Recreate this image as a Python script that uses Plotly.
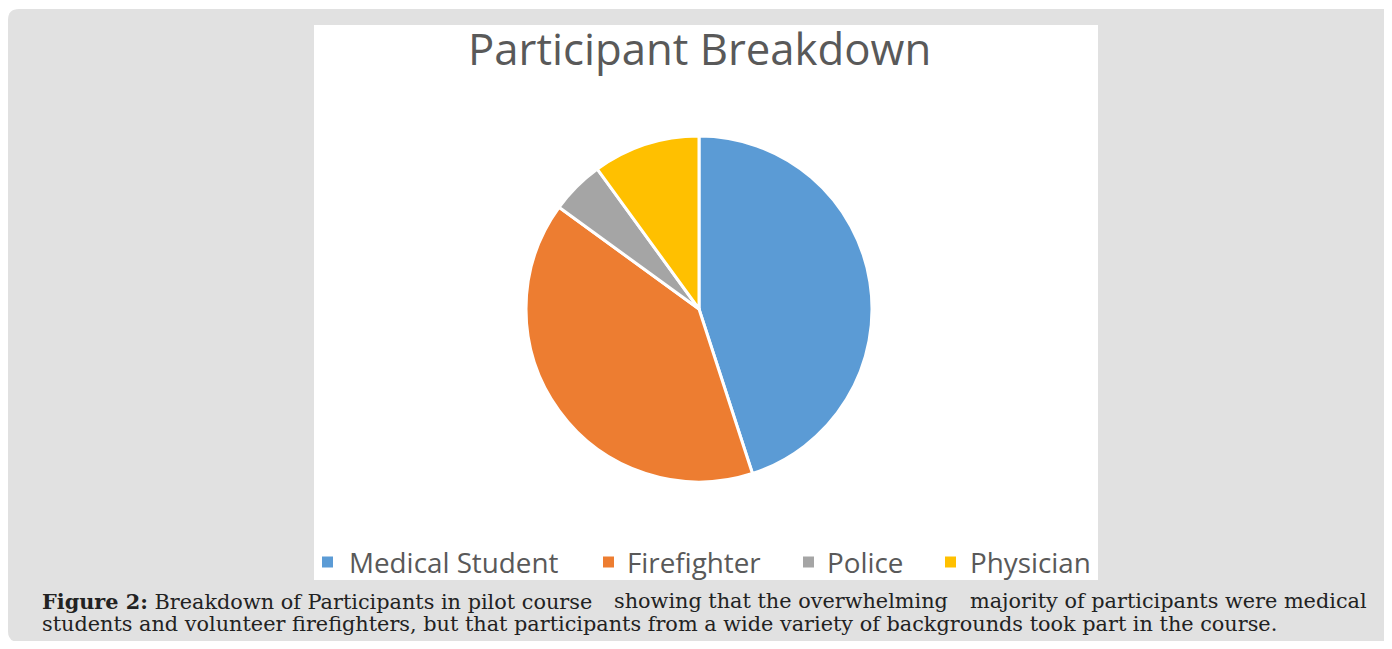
import plotly.graph_objects as go

categories = ["Medical Student", "Firefighter", "Police", "Physician"]
values = [9, 8, 1, 2]
colors = ["#5B9BD5", "#ED7D31", "#A5A5A5", "#FFC000"]
title_text = "Participant Breakdown"
caption_line1_parts = [
    "<b>Figure 2:</b> Breakdown of Participants in pilot course",
    "showing that the overwhelming",
    "majority of participants were medical",
]
caption_line2 = ("students and volunteer firefighters, but that participants from a wide variety "
                 "of backgrounds took part in the course.")

# page has an 8px body margin; figure sized to fit the viewport without scrolling
OFF = 8
W, H = 1392 - OFF, 649 - 2 * OFF


def px(x):
    return (x - OFF) / W


def py(y):
    return 1 - (y - OFF) / H


fig = go.Figure()
R = 173
CX, CY = 699, 309
fig.add_trace(go.Pie(
    labels=categories, values=values, sort=False, direction="clockwise", rotation=0,
    marker=dict(colors=colors, line=dict(color="white", width=3)),
    textinfo="none", hoverinfo="label+value+percent", showlegend=False,
    domain=dict(x=[px(CX - R), px(CX + R)], y=[py(CY + R), py(CY - R)]),
))

# gray rounded panel
r = 11
x0, y0, x1, y1 = 8, 9, 1420, 642
path = (f"M {px(x0 + r)},{py(y0)} L {px(x1)},{py(y0)} L {px(x1)},{py(y1)} "
        f"L {px(x0 + r)},{py(y1)} Q {px(x0)},{py(y1)} {px(x0)},{py(y1 - r)} "
        f"L {px(x0)},{py(y0 + r)} Q {px(x0)},{py(y0)} {px(x0 + r)},{py(y0)} Z")
shapes = [
    dict(type="path", path=path, xref="paper", yref="paper",
         fillcolor="#e1e1e1", line=dict(width=0), layer="below"),
    dict(type="rect", xref="paper", yref="paper", x0=px(314), x1=px(1098), y0=py(580), y1=py(25),
         fillcolor="white", line=dict(width=0), layer="below"),
]

annotations = [
    dict(text=title_text, x=px(699), y=py(47.5), xref="paper", yref="paper", showarrow=False,
         xanchor="center", yanchor="middle", font=dict(family="Open Sans", size=43.7, color="#595959")),
]

# legend (text + swatches)
leg_text_x = [349, 627, 827, 970]
leg_sq_x = [322, 603, 803, 945]
leg_y = 562
for cat, col, tx, sx in zip(categories, colors, leg_text_x, leg_sq_x):
    shapes.append(dict(type="rect", xref="paper", yref="paper",
                       x0=px(sx), x1=px(sx + 11), y0=py(leg_y + 5.5), y1=py(leg_y - 5.5),
                       fillcolor=col, line=dict(width=0)))
    annotations.append(dict(text=cat, x=px(tx - 2), y=py(leg_y - 0.5), xref="paper", yref="paper",
                            showarrow=False, xanchor="left", yanchor="middle",
                            font=dict(family="Open Sans", size=27.8, color="#595959")))

cap_font = dict(family="DejaVu Serif", size=20.8, color="#222222")
annotations += [
    dict(text=caption_line1_parts[0], x=px(40), y=py(601), xref="paper", yref="paper",
         showarrow=False, xanchor="left", yanchor="middle", font=cap_font),
    dict(text=caption_line1_parts[1], x=px(781), y=py(601), xref="paper", yref="paper",
         showarrow=False, xanchor="center", yanchor="middle", font=cap_font),
    dict(text=caption_line1_parts[2], x=px(1369), y=py(601), xref="paper", yref="paper",
         showarrow=False, xanchor="right", yanchor="middle", font=cap_font),
    dict(text=caption_line2, x=px(40), y=py(624), xref="paper", yref="paper", showarrow=False,
         xanchor="left", yanchor="middle", font=cap_font),
]

fig.update_layout(
    width=W, height=H, margin=dict(l=0, r=0, t=0, b=0),
    paper_bgcolor="white", plot_bgcolor="white",
    shapes=shapes, annotations=annotations, showlegend=False,
)

fig.write_html("out.html")
